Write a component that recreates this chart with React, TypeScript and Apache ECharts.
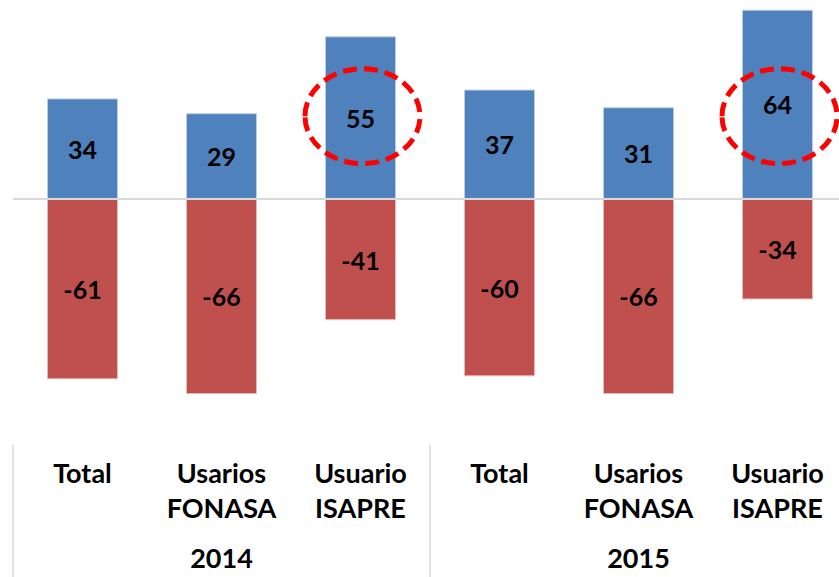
import React, { useEffect, useRef } from "react";
import * as echarts from "echarts";

const categories = ["Total", "Usarios\nFONASA", "Usuario\nISAPRE", "Total", "Usarios\nFONASA", "Usuario\nISAPRE"];
const years = ["2014", "2015"];
const positiveValues = [34, 29, 55, 37, 31, 64];
const negativeValues = [-61, -66, -41, -60, -66, -34];
const highlighted = [2, 5];

const FONT = "Lato, 'Open Sans', sans-serif";

export default function App() {
  const ref = useRef<HTMLDivElement>(null);
  useEffect(() => {
    if (!ref.current) return;
    const chart = echarts.init(ref.current, undefined, { renderer: "svg" });
    const labelStyle = {
      show: true,
      position: "inside" as const,
      color: "#000",
      fontSize: 25,
      fontWeight: "bold" as const,
      fontFamily: FONT,
    };
    chart.setOption({
      animation: false,
      grid: { left: 13, top: 0, width: 834, height: 435.4, containLabel: false },
      xAxis: [
        {
          type: "category",
          data: categories,
          axisLine: { show: false },
          axisTick: { show: false },
          axisLabel: {
            color: "#000",
            fontSize: 27,
            fontWeight: "bold",
            fontFamily: FONT,
            lineHeight: 35,
            margin: 20,
            interval: 0,
          },
        },
        {
          type: "category",
          data: years,
          position: "bottom",
          offset: 9,
          axisLine: { show: false },
          axisTick: { show: true, length: 140, lineStyle: { color: "#d9d9d9", width: 1.5 } },
          axisLabel: {
            color: "#000",
            fontSize: 27,
            fontWeight: "bold",
            fontFamily: FONT,
            lineHeight: 27,
            margin: 100,
            interval: 0,
          },
        },
      ],
      yAxis: {
        type: "value",
        min: -80,
        max: 67.3,
        show: false,
        splitLine: { show: false },
      },
      series: [
        {
          type: "bar",
          name: "pos",
          stack: "a",
          data: positiveValues,
          barWidth: 71,
          itemStyle: { color: "#4f81bd", borderColor: "#b9cde5", borderWidth: 1 },
          label: labelStyle,
          markLine: {
            silent: true,
            symbol: ["none", "none"],
            label: { show: false },
            lineStyle: { color: "#d9d9d9", width: 2, type: "solid" },
            data: [{ yAxis: 0 }],
          },
        },
        {
          type: "bar",
          name: "neg",
          stack: "a",
          data: negativeValues,
          barWidth: 71,
          itemStyle: { color: "#c0504d", borderColor: "#e6b9b8", borderWidth: 1 },
          label: labelStyle,
        },
      ],
    });
    const ellipses = highlighted.map((i) => {
      const [cx, cy] = chart.convertToPixel({ xAxisIndex: 0, yAxisIndex: 0 }, [i, 28]) as number[];
      return {
        type: "ellipse",
        shape: { cx: cx + 2, cy, rx: 57.5, ry: 47.5 },
        style: { fill: "none", stroke: "#ff0000", lineWidth: 5, lineDash: [14, 7] },
        z: 10,
      };
    });
    chart.setOption({ graphic: ellipses });
    return () => chart.dispose();
  }, []);
  return (
    <div style={{ position: "absolute", left: 0, top: 0, width: 839, height: 577, overflow: "hidden" }}>
      <div ref={ref} style={{ width: 847, height: 577 }} />
    </div>
  );
}
